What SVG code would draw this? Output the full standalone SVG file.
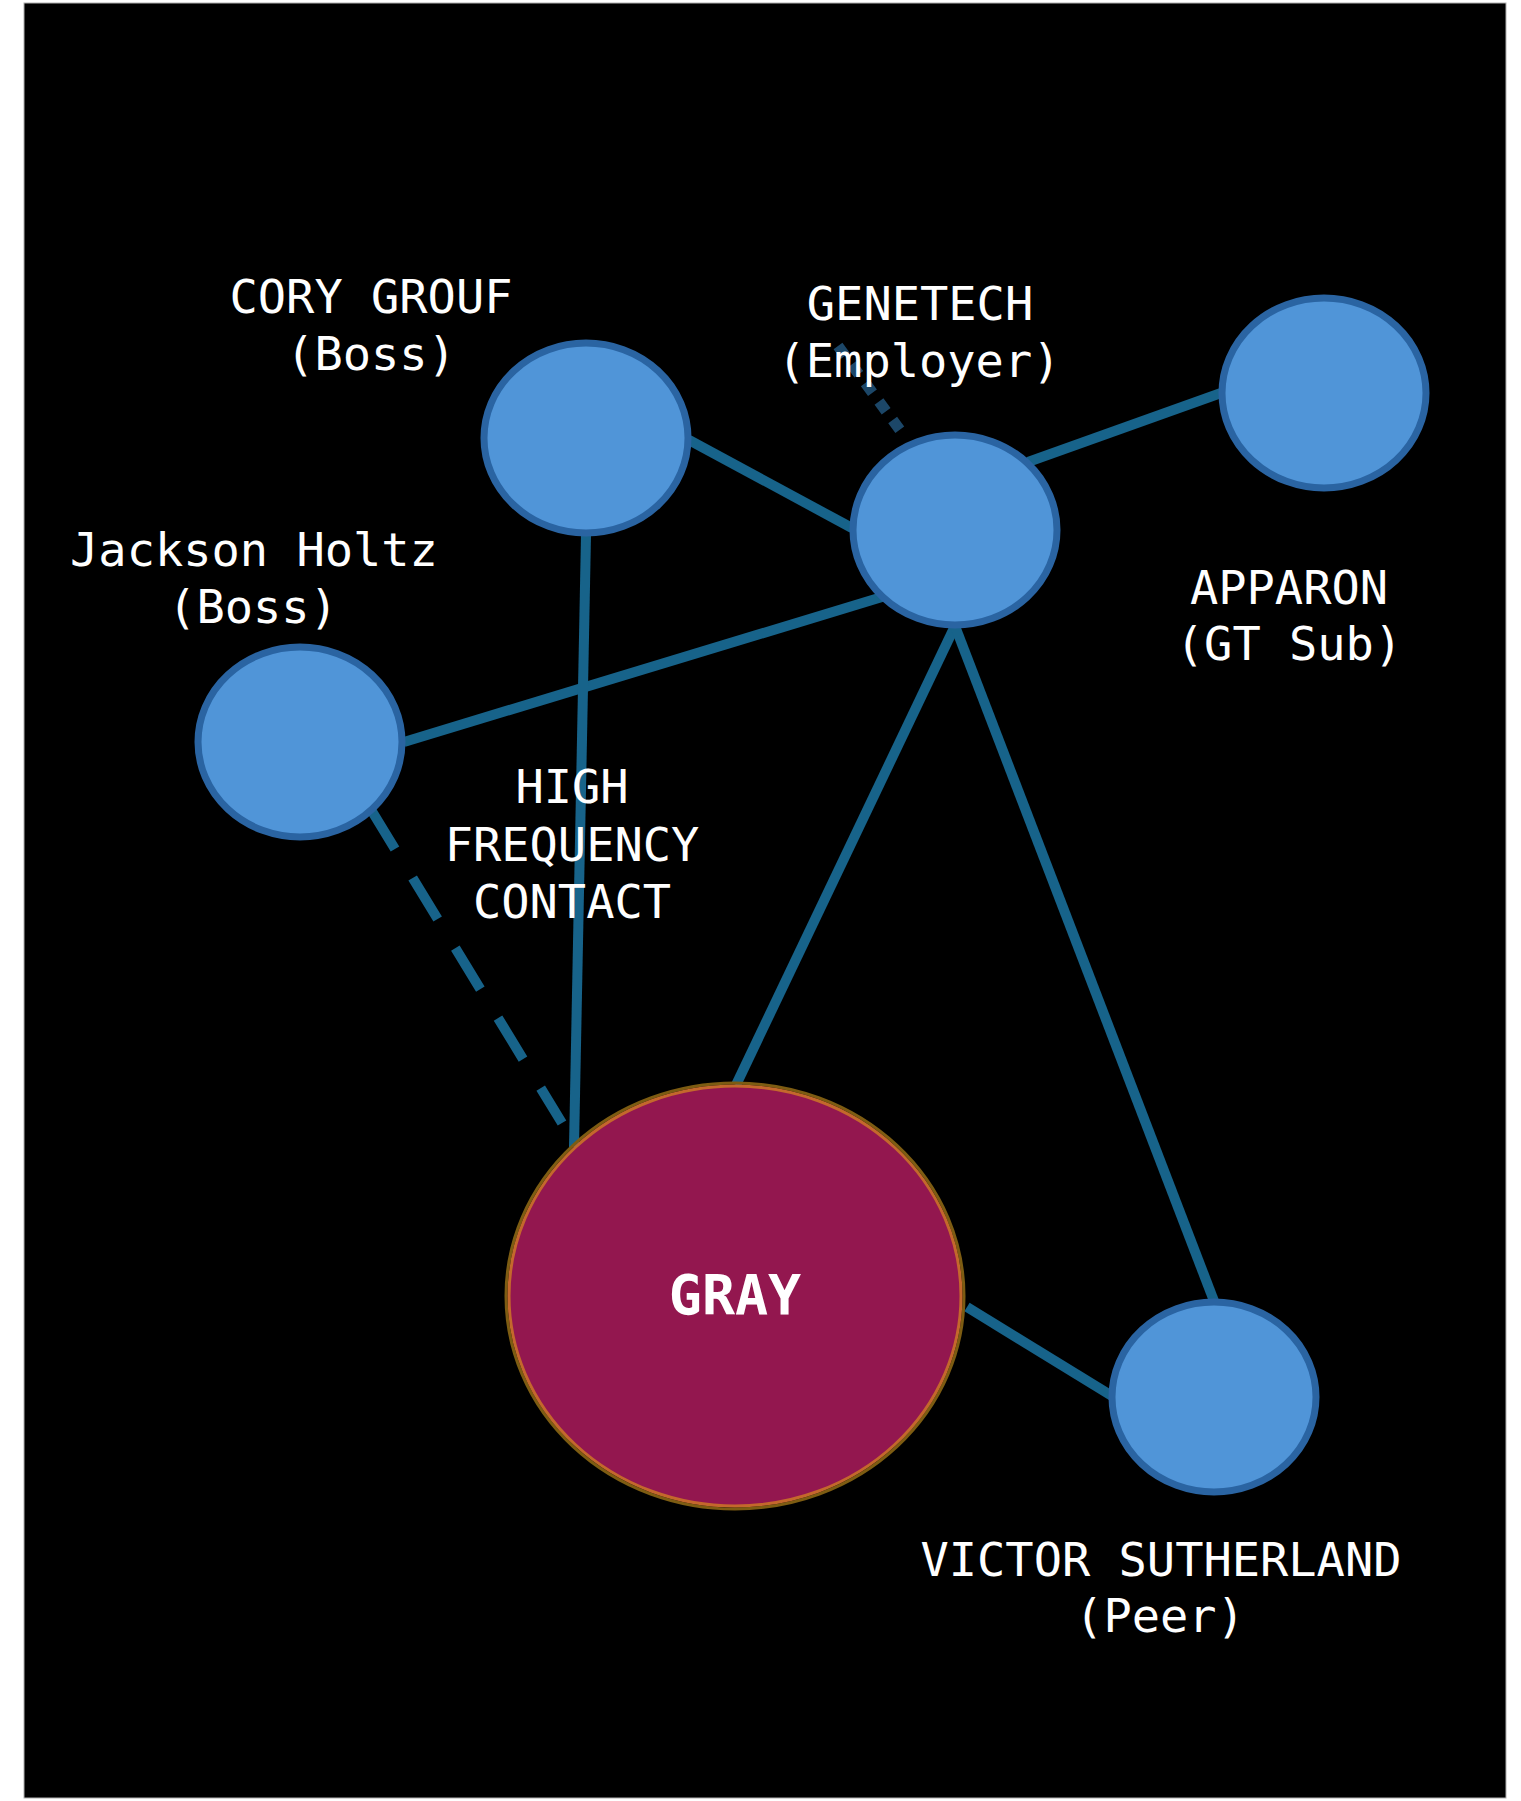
<svg xmlns="http://www.w3.org/2000/svg" width="1521" height="1801" viewBox="0 0 1521 1801">
<style>
.edge{stroke:#17638a;stroke-width:10;fill:none}
.node{fill:#5095d8;stroke:#2a64a2;stroke-width:7}
.lbl{font-family:"DejaVu Sans Mono","Liberation Mono",monospace;font-size:47px;fill:#ffffff;text-anchor:middle}
.big{font-family:"DejaVu Sans Mono","Liberation Mono",monospace;font-size:55px;font-weight:bold;fill:#ffffff;text-anchor:middle}
</style>
<rect x="0" y="0" width="1521" height="1801" fill="#ffffff"/>
<rect x="24" y="3" width="1482" height="1795" fill="#000000" stroke="#b0b0b0" stroke-width="1"/>
<g id="connectors">
<line class="edge" x1="689" y1="440" x2="852" y2="528"/>
<line class="edge" x1="1028" y1="462" x2="1221" y2="393"/>
<line class="edge" x1="882" y1="597" x2="404" y2="742"/>
<line class="edge" x1="586" y1="535" x2="574" y2="1147"/>
<line class="edge" x1="955" y1="626" x2="736" y2="1085"/>
<line class="edge" x1="955" y1="626" x2="1214" y2="1301"/>
<line class="edge" x1="967" y1="1307" x2="1112" y2="1396"/>
<line class="edge" x1="370" y1="808" x2="562" y2="1123" stroke-dasharray="48 34"/>
<line x1="838" y1="346" x2="903" y2="434" stroke="#1c4768" stroke-width="11" stroke-dasharray="12 11"/>
</g>
<g id="node-cory"><ellipse class="node" cx="586" cy="438" rx="102" ry="95"/></g>
<g id="node-genetech"><ellipse class="node" cx="955" cy="530" rx="102" ry="95"/></g>
<g id="node-apparon"><ellipse class="node" cx="1324" cy="393" rx="102" ry="95"/></g>
<g id="node-jackson"><ellipse class="node" cx="300" cy="742" rx="102" ry="95"/></g>
<g id="node-victor"><ellipse class="node" cx="1214" cy="1397" rx="102" ry="95"/></g>
<g id="node-gray">
<ellipse cx="735" cy="1296" rx="229" ry="213" fill="none" stroke="#7d5c12" stroke-width="3"/>
<ellipse cx="735" cy="1296" rx="226" ry="210" fill="#93174f" stroke="#c4682c" stroke-width="3"/>
<text class="big" x="735" y="1314">GRAY</text>
</g>
<g id="labels">
<text class="lbl" x="371" y="313">CORY GROUF</text>
<text class="lbl" x="371" y="370">(Boss)</text>
<text class="lbl" x="920" y="320">GENETECH</text>
<text class="lbl" x="919" y="377">(Employer)</text>
<text class="lbl" x="254" y="566">Jackson Holtz</text>
<text class="lbl" x="253" y="623">(Boss)</text>
<text class="lbl" x="1289" y="604">APPARON</text>
<text class="lbl" x="1289" y="660">(GT Sub)</text>
<text class="lbl" x="572" y="803">HIGH</text>
<text class="lbl" x="572" y="861">FREQUENCY</text>
<text class="lbl" x="572" y="918">CONTACT</text>
<text class="lbl" x="1161" y="1576">VICTOR SUTHERLAND</text>
<text class="lbl" x="1160" y="1632">(Peer)</text>
</g>
</svg>
